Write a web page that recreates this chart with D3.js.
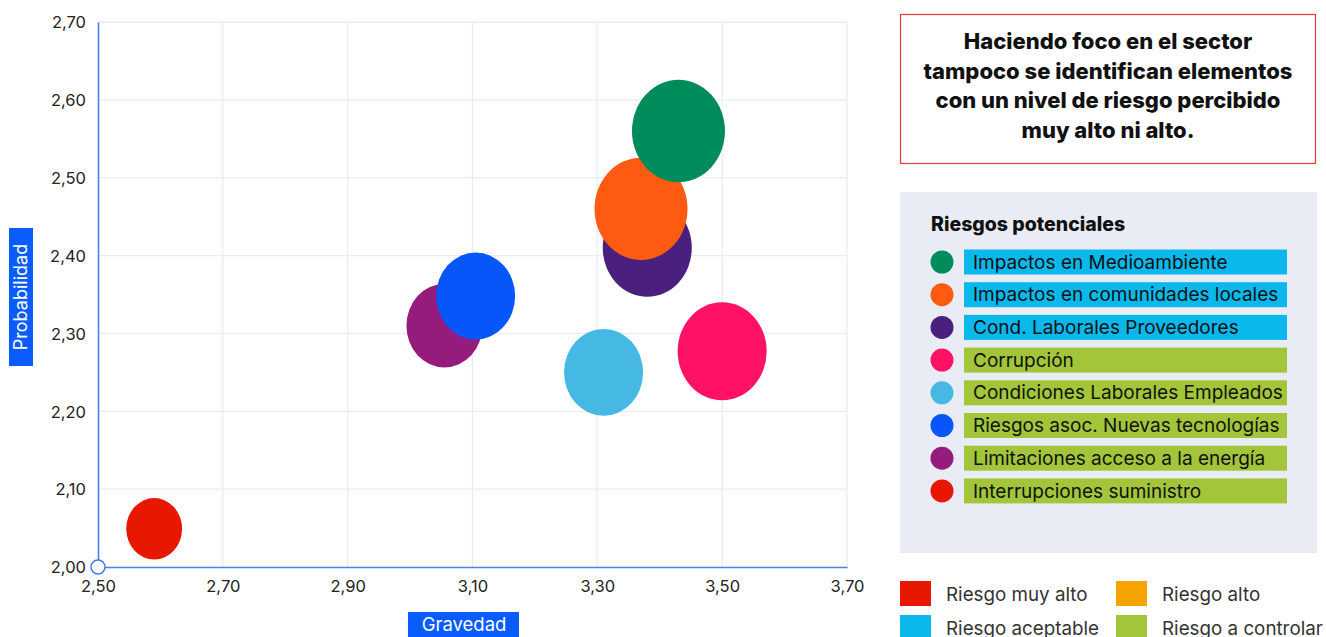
<!DOCTYPE html>
<html><head><meta charset="utf-8">
<script src="https://cdn.jsdelivr.net/npm/d3@7"></script>
<style>
html,body{margin:0;padding:0;background:#fff;}
svg{display:block;font-family:Inter,"Noto Sans",sans-serif;}
</style></head>
<body><svg id="c" width="1326" height="637"></svg>
<script>
// ---- data ----
const risks = ["Impactos en Medioambiente","Impactos en comunidades locales","Cond. Laborales Proveedores","Corrupción","Condiciones Laborales Empleados","Riesgos asoc. Nuevas tecnologías","Limitaciones acceso a la energía","Interrupciones suministro"];
const gravedad =     [3.43, 3.37, 3.38, 3.50, 3.31, 3.105, 3.055, 2.59];
const probabilidad = [2.56, 2.46, 2.41, 2.277, 2.25, 2.348, 2.31, 2.049];
const sizeValue =    [2.16, 2.16, 1.98, 1.98, 1.56, 1.56, 1.44, 0.78];
const bubbleColors = ["#008c5a","#ff5a12","#4a1f7e","#ff1166","#45b8e4","#0656fa","#951c7c","#e81700"];
const riskLevel =    ["aceptable","aceptable","aceptable","controlar","controlar","controlar","controlar","controlar"];
const xTicks = [2.5, 2.7, 2.9, 3.1, 3.3, 3.5, 3.7];
const yTicks = [2.0, 2.1, 2.2, 2.3, 2.4, 2.5, 2.6, 2.7];
const levelNames = ["Riesgo muy alto","Riesgo alto","Riesgo aceptable","Riesgo a controlar"];
const levelKeys = ["muyalto","alto","aceptable","controlar"];
const levelColors = ["#e81700","#f5a300","#0bb8ec","#a2c539"];
const noteLines = ["Haciendo foco en el sector","tampoco se identifican elementos","con un nivel de riesgo percibido","muy alto ni alto."];

const svg = d3.select("#c");
const x = d3.scaleLinear().domain([2.5, 3.7]).range([98, 847]);
const y = d3.scaleLinear().domain([2.0, 2.7]).range([567, 22]);
const r = d3.scaleSqrt().domain([0, 2.16]).range([0, 46.5]);
const fmt = v => d3.format(".2f")(v).replace(".", ",");
const levelColor = k => levelColors[levelKeys.indexOf(k)];

// grid
svg.append("g").selectAll("line.v").data(xTicks.slice(1)).join("line")
  .attr("x1", d => x(d)).attr("x2", d => x(d)).attr("y1", y(2.7)).attr("y2", y(2.0))
  .attr("stroke", "#e9ecf5").attr("stroke-width", 1.3);
svg.append("g").selectAll("line.h").data(yTicks.slice(1)).join("line")
  .attr("x1", x(2.5)).attr("x2", x(3.7)).attr("y1", d => y(d)).attr("y2", d => y(d))
  .attr("stroke", "#e9ecf5").attr("stroke-width", 1.3);

// axes
const xAxis = svg.append("g").attr("transform", `translate(0,${y(2.0)})`)
  .call(d3.axisBottom(x).tickValues(xTicks).tickFormat(fmt).tickSize(0).tickPadding(13));
const yAxis = svg.append("g").attr("transform", `translate(${x(2.5)},0)`)
  .call(d3.axisLeft(y).tickValues(yTicks).tickFormat(fmt).tickSize(0).tickPadding(12));
[xAxis, yAxis].forEach(a => {
  a.select(".domain").attr("stroke", "#4a7ff0").attr("stroke-width", 1.6);
  a.selectAll("text").attr("font-size", 16.5).attr("fill", "#222").attr("font-family", "Inter, sans-serif");
});
yAxis.selectAll("text").attr("dy", "0.35em");

// bubbles (drawn in reverse so first item sits on top)
const idx = d3.range(risks.length).reverse();
svg.append("g").selectAll("ellipse").data(idx).join("ellipse")
  .attr("cx", i => x(gravedad[i])).attr("cy", i => y(probabilidad[i]))
  .attr("rx", i => r(sizeValue[i])).attr("ry", i => r(sizeValue[i]) * 1.1)
  .attr("fill", i => bubbleColors[i]);

// origin marker
svg.append("circle").attr("cx", x(2.5)).attr("cy", y(2.0)).attr("r", 7)
  .attr("fill", "#fff").attr("stroke", "#3d7af0").attr("stroke-width", 1.5);

// axis titles
svg.append("rect").attr("x", 9).attr("y", 228).attr("width", 24).attr("height", 138).attr("fill", "#0a5cff");
svg.append("text").attr("transform", "translate(27,297) rotate(-90)").attr("text-anchor", "middle")
  .attr("fill", "#fff").attr("font-size", 18).text("Probabilidad");
svg.append("rect").attr("x", 408).attr("y", 612).attr("width", 111).attr("height", 26).attr("fill", "#0a5cff");
svg.append("text").attr("x", 464).attr("y", 631).attr("text-anchor", "middle")
  .attr("fill", "#fff").attr("font-size", 18.5).text("Gravedad");

// note box
svg.append("rect").attr("x", 900.5).attr("y", 14.5).attr("width", 415).attr("height", 149)
  .attr("fill", "#fff").attr("stroke", "#e8372b").attr("stroke-width", 1.2);
svg.append("g").selectAll("text").data(noteLines).join("text")
  .attr("x", 1108).attr("y", (d, i) => 49 + i * 29.5).attr("text-anchor", "middle")
  .attr("font-size", 22).attr("font-weight", 800).attr("fill", "#111").text(d => d);

// legend panel
svg.append("rect").attr("x", 900).attr("y", 192).attr("width", 417).attr("height", 361).attr("fill", "#e9ecf4");
svg.append("text").attr("x", 931).attr("y", 231).attr("font-size", 19.5).attr("font-weight", 800)
  .attr("fill", "#111").text("Riesgos potenciales");
const lg = svg.append("g").selectAll("g").data(risks).join("g")
  .attr("transform", (d, i) => `translate(0,${262 + i * 32.7})`);
lg.append("circle").attr("cx", 942).attr("cy", 0).attr("r", 11.5).attr("fill", (d, i) => bubbleColors[i]);
lg.append("rect").attr("x", 964).attr("y", -12.5).attr("width", 323).attr("height", 25)
  .attr("fill", (d, i) => levelColor(riskLevel[i]));
lg.append("text").attr("x", 973).attr("y", 0).attr("dy", "0.35em").attr("font-size", 19)
  .attr("fill", "#111").text(d => d);

// level legend
const ll = svg.append("g").selectAll("g").data(levelNames).join("g")
  .attr("transform", (d, i) => `translate(${900 + (i % 2) * 216},${581 + Math.floor(i / 2) * 34})`);
ll.append("rect").attr("width", 31).attr("height", 25).attr("fill", (d, i) => levelColors[i]);
ll.append("text").attr("x", 46).attr("y", 13).attr("dy", "0.35em").attr("font-size", 18.8)
  .attr("fill", "#333").text(d => d);
</script></body></html>
